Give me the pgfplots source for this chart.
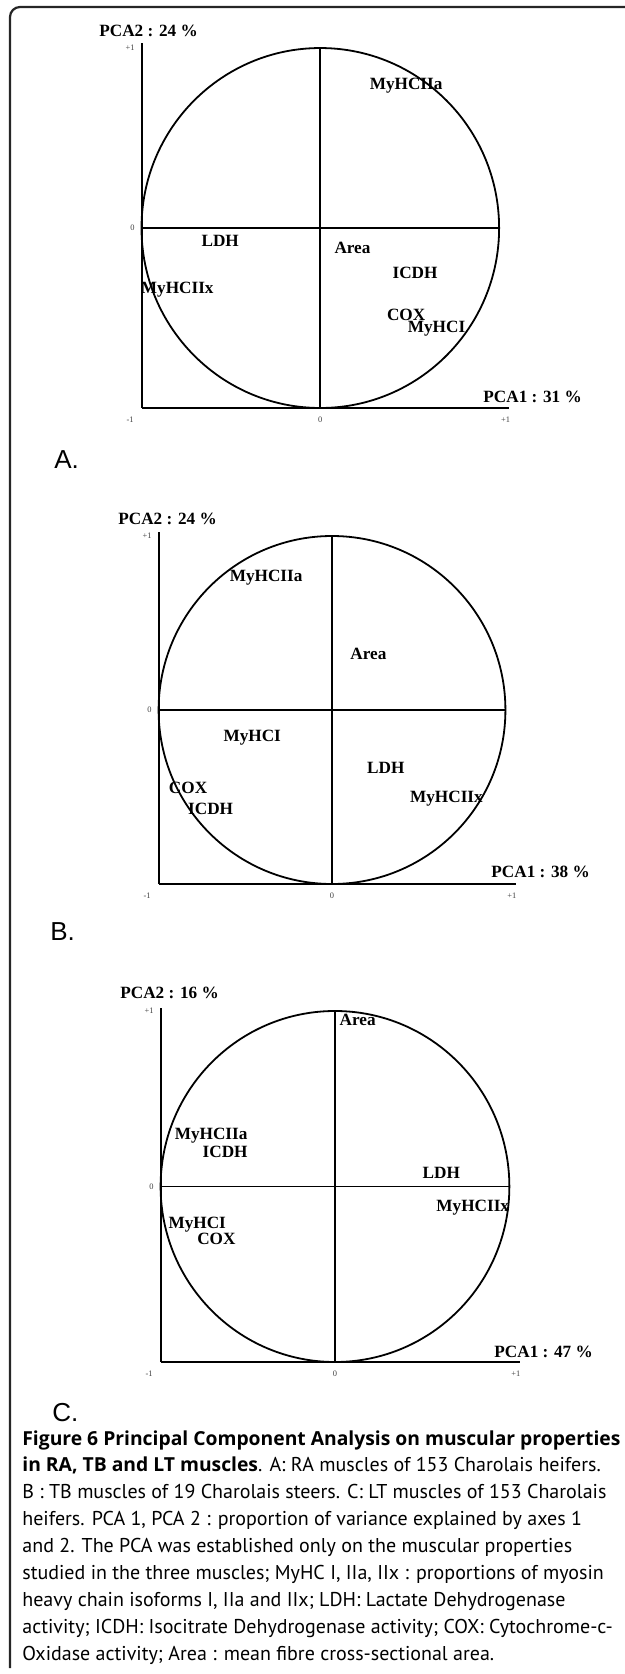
\documentclass[border=0pt]{standalone}
\usepackage{pgfplots}
\usepackage{pgfplotstable}
\pgfplotsset{compat=1.18}
\usepackage{fontspec}
\setmainfont{Liberation Serif}
\newfontfamily\capfont{PT Sans}
\newfontfamily\capbold{Open Sans}
\newfontfamily\arialfont{Liberation Sans}
\newcommand\capb[1]{{\capbold\bfseries\fontsize{9.65}{9.65}\selectfont #1}}

% variable coordinates on the two first axes
\pgfplotstableread{
x y label
0.48 0.79 MyHCIIa
-0.56 -0.07 LDH
0.18 -0.11 Area
0.53 -0.25 ICDH
-0.80 -0.34 MyHCIIx
0.48 -0.48 COX
0.65 -0.56 MyHCI
}\tabA
\pgfplotstableread{
x y label
-0.38 0.76 MyHCIIa
0.21 0.32 Area
-0.46 -0.16 MyHCI
0.31 -0.33 LDH
-0.83 -0.45 COX
0.66 -0.51 MyHCIIx
-0.70 -0.57 ICDH
}\tabB
\pgfplotstableread{
x y label
0.13 0.95 Area
-0.71 0.29 MyHCIIa
-0.63 0.20 ICDH
0.61 0.08 LDH
0.79 -0.12 MyHCIIx
-0.79 -0.22 MyHCI
-0.68 -0.30 COX
}\tabC

\def\u{0.5pt}
\pgfplotsset{
  pcacircle/.style={
    scale only axis, clip=false,
    anchor=south west,
    xmin=-1, ymin=-1,
    axis x line*=bottom, axis y line*=left,
    axis line style={line width=1pt},
    xtick={-1,0,1}, xticklabels={{-1\hspace*{11.5pt}},0,{\hspace*{6.5pt}+1}},
    ytick={0,1}, yticklabels={0,+1},
    major tick length=0pt,
    tick label style={font=\fontsize{4.2}{4.2}\selectfont, text=black!75, inner sep=0pt},
    x tick label style={yshift=-4.3pt},
    y tick label style={xshift=-3.3pt},
  },
  varnames/.style={
    draw=none, mark=none,
    nodes near coords, point meta=explicit symbolic,
    nodes near coords align={center},
    every node near coord/.append style={font=\bfseries\fontsize{8.6}{8.6}\selectfont, inner sep=0pt, text=black},
  },
  quad/.style={black, line width=0.9pt, mark=none, forget plot},
}

\begin{document}
\begin{tikzpicture}
\begin{scope}[x=0.5pt, y=-0.5pt]
\path[use as bounding box] (0,0) rectangle (625,1674);
\draw[black!85, line width=1.1pt, rounded corners=5pt] (10,1668) -- (10,7) -- (640,7);

\node[anchor=west, inner sep=0pt, font=\bfseries\fontsize{8.6}{8.6}\selectfont] at (99,31) {PCA2 : 24 \%};
\node[anchor=west, inner sep=0pt, font=\bfseries\fontsize{8.6}{8.6}\selectfont] at (483,397) {PCA1 : 31 \%};
\node[anchor=west, inner sep=0pt, font=\arialfont\fontsize{13}{13}\selectfont] at (54,460) {A.};

\node[anchor=west, inner sep=0pt, font=\bfseries\fontsize{8.6}{8.6}\selectfont] at (118,519) {PCA2 : 24 \%};
\node[anchor=west, inner sep=0pt, font=\bfseries\fontsize{8.6}{8.6}\selectfont] at (491,872) {PCA1 : 38 \%};
\node[anchor=west, inner sep=0pt, font=\arialfont\fontsize{13}{13}\selectfont] at (50,932) {B.};

\node[anchor=west, inner sep=0pt, font=\bfseries\fontsize{8.6}{8.6}\selectfont] at (120,993) {PCA2 : 16 \%};
\node[anchor=west, inner sep=0pt, font=\bfseries\fontsize{8.6}{8.6}\selectfont] at (494,1352) {PCA1 : 47 \%};
\node[anchor=west, inner sep=0pt, font=\arialfont\fontsize{13}{13}\selectfont] at (52,1413) {C.};

\begin{scope}[every node/.style={anchor=base west, inner sep=0pt, font=\capfont\fontsize{10}{10}\selectfont}]
\node at (22,1445.0) {\capb{Figure 6 Principal Component Analysis on muscular properties}};
\node at (22,1471.9) {\capb{in RA, TB and LT muscles}. A: RA muscles of 153 Charolais heifers.};
\node at (22,1498.8) {B : TB muscles of 19 Charolais steers. C: LT muscles of 153 Charolais};
\node at (22,1525.7) {heifers. PCA 1, PCA 2 : proportion of variance explained by axes 1};
\node at (22,1552.6) {and 2. The PCA was established only on the muscular properties};
\node at (22,1579.5) {studied in the three muscles; MyHC I, IIa, IIx : proportions of myosin};
\node at (22,1606.4) {heavy chain isoforms I, IIa and IIx; LDH: Lactate Dehydrogenase};
\node at (22,1633.3) {activity; ICDH: Isocitrate Dehydrogenase activity; COX: Cytochrome-c-};
\node at (22,1660.2) {Oxidase activity; Area : mean fibre cross-sectional area.};
\end{scope}
\end{scope}

% A
\begin{axis}[pcacircle, at={(141.5*\u,-408*\u)},
  width=367.8*\u, height=365*\u, xmax=1.057, ymax=1.028]
\addplot[quad] coordinates {(-1,0) (1,0)};
\addplot[quad] coordinates {(0,-1) (0,1)};
\draw[line width=0.9pt] (axis cs:0,0) ellipse [x radius=1, y radius=1];
\addplot[varnames] table[x=x, y=y, meta=label] {\tabA};
\end{axis}

% B
\begin{axis}[pcacircle, at={(158.6*\u,-884*\u)},
  width=357.4*\u, height=352*\u, xmax=1.061, ymax=1.023]
\addplot[quad] coordinates {(-1,0) (1,0)};
\addplot[quad] coordinates {(0,-1) (0,1)};
\draw[line width=0.9pt] (axis cs:0,0) ellipse [x radius=1, y radius=1];
\addplot[varnames] table[x=x, y=y, meta=label] {\tabB};
\end{axis}

% C
\begin{axis}[pcacircle, at={(160.6*\u,-1362*\u)},
  width=359.4*\u, height=354*\u, xmax=1.061, ymax=1.017]
\addplot[quad] coordinates {(-1,0) (1,0)};
\addplot[quad] coordinates {(0,-1) (0,1)};
\draw[line width=0.9pt] (axis cs:0,0) ellipse [x radius=1, y radius=1];
\addplot[varnames] table[x=x, y=y, meta=label] {\tabC};
\end{axis}
\end{tikzpicture}
\end{document}
